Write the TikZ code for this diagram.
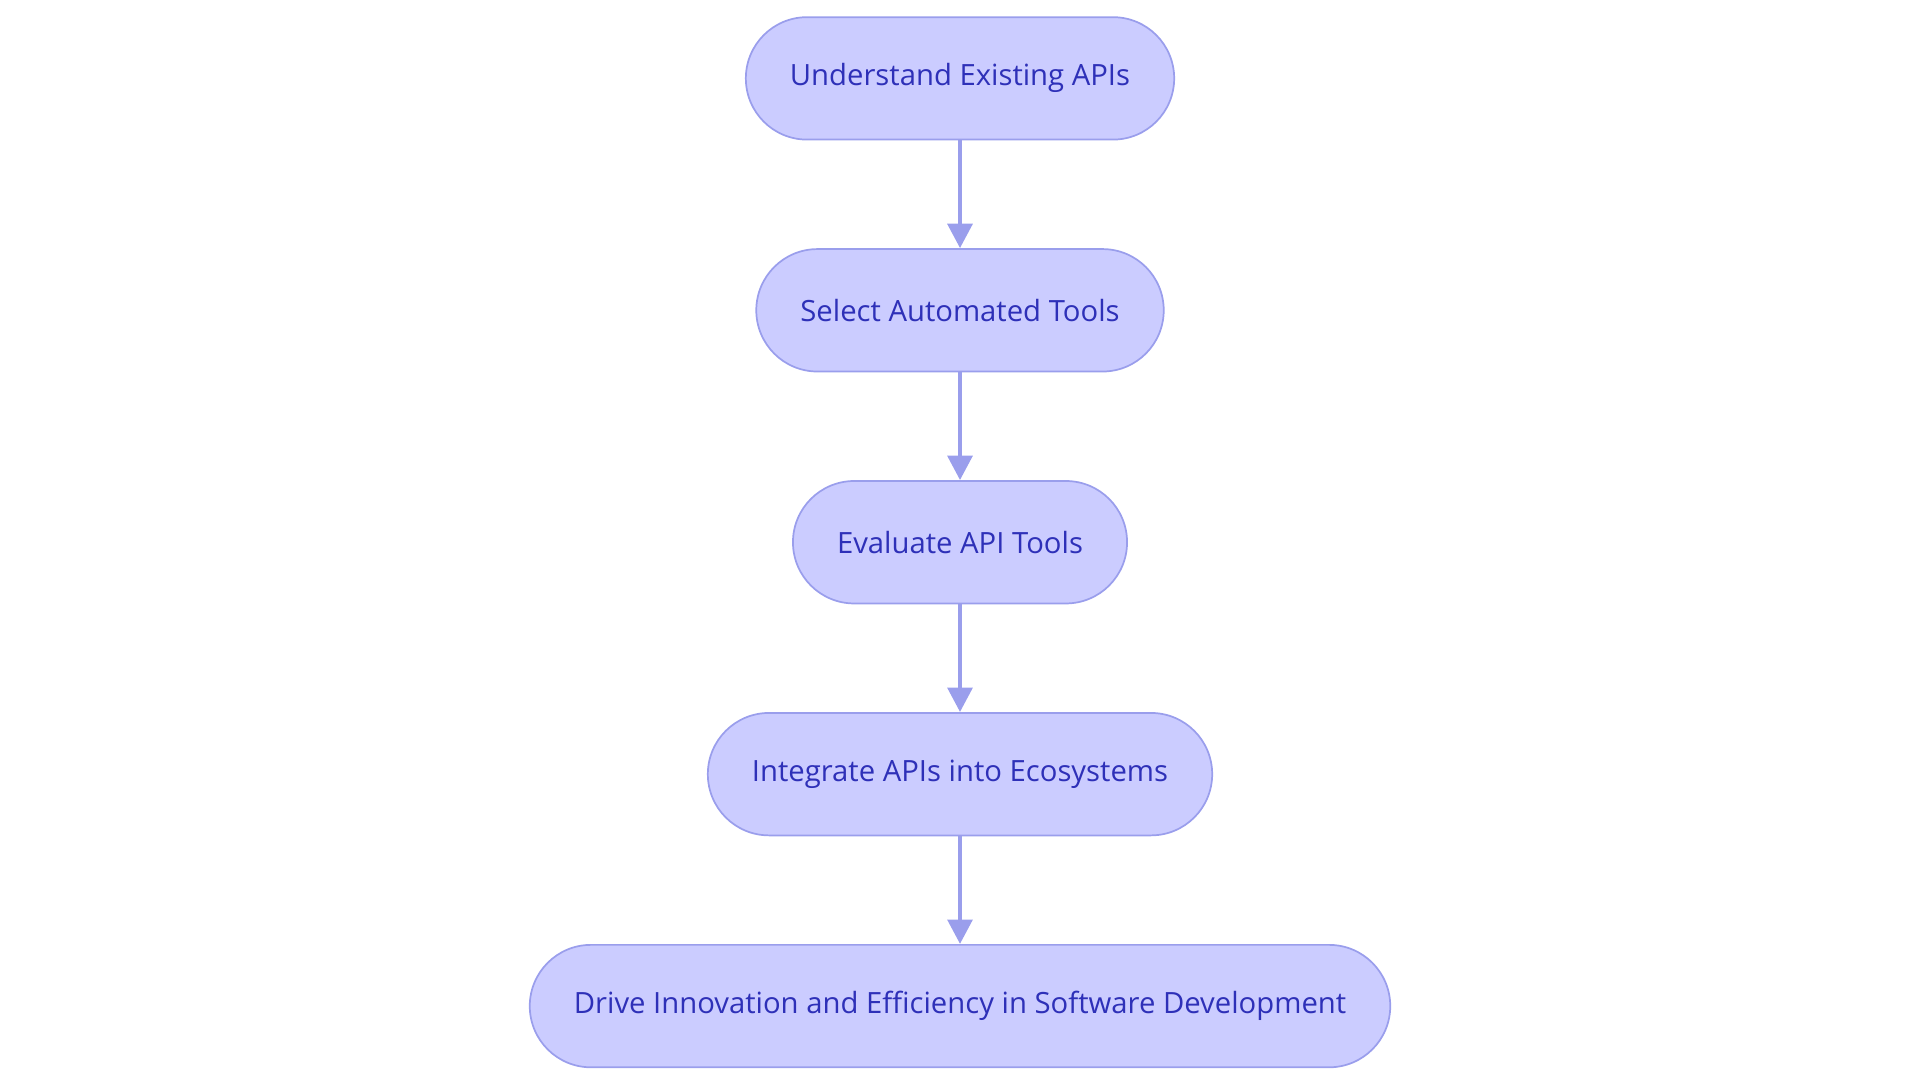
\documentclass[tikz,border=0pt]{standalone}
\usepackage{fontspec}
\setmainfont{Open Sans}
\usetikzlibrary{positioning,arrows.meta}
\definecolor{boxfill}{HTML}{CBCCFF}
\definecolor{boxline}{HTML}{9A9EEC}
\definecolor{boxtext}{HTML}{2E30B8}
\begin{document}
\begin{tikzpicture}[node distance=0.88cm,
	stepbox/.style={rectangle,rounded corners=0.5cm,draw=boxline,fill=boxfill,line width=0.4pt,
		minimum height=1cm,inner xsep=0.36cm,text=boxtext,font=\fontsize{6.8}{8}\selectfont},
	link/.style={draw=boxline,line width=1.1pt,-{Triangle[width=0.2cm,length=0.2cm]}}]
	\useasboundingbox (0,0) rectangle (15.68,8.82);
	\node[stepbox] (understand) at (7.84,8.18) {Understand Existing APIs};
	\node[stepbox,below=of understand] (select) {Select Automated Tools};
	\node[stepbox,below=of select] (evaluate) {Evaluate API Tools};
	\node[stepbox,below=of evaluate] (integrate) {Integrate APIs into Ecosystems};
	\node[stepbox,below=of integrate] (drive) {Drive Innovation and Efficiency in Software Development};
	\foreach \A/\B in {understand/select,select/evaluate,evaluate/integrate,integrate/drive}
		\draw[link] (\A) -- (\B);
\end{tikzpicture}
\end{document}
